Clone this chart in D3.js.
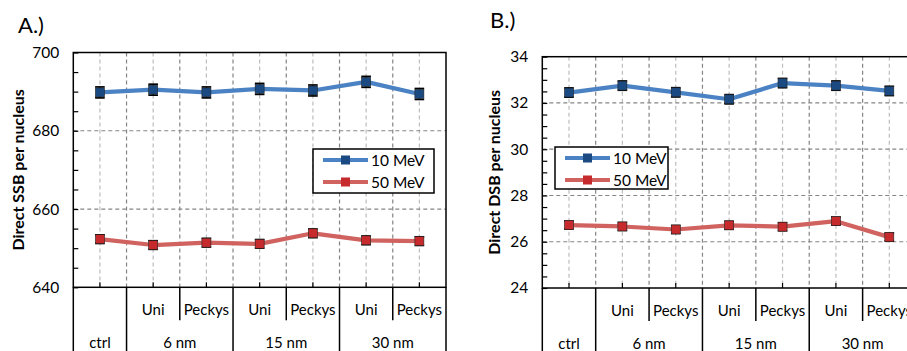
<!DOCTYPE html>
<html>
<head>
<meta charset="utf-8">
<script src="https://cdn.jsdelivr.net/npm/d3@7"></script>
<style>
  html, body { margin: 0; padding: 0; background: #fff; }
  svg { display: block; font-family: Lato, "Open Sans", sans-serif; }
</style>
</head>
<body>
<svg id="chart" width="907" height="351"></svg>
<script>
// Categories: control plus two distributions for each nanoparticle size
const categories = ["ctrl", "6 Uni", "6 Peckys", "15 Uni", "15 Peckys", "30 Uni", "30 Peckys"];
const subLabels = ["", "Uni", "Peckys", "Uni", "Peckys", "Uni", "Peckys"];
const groupLabels = ["ctrl", "6 nm", "15 nm", "30 nm"];
const groupSpans = [1, 2, 2, 2];
const seriesNames = ["10 MeV", "50 MeV"];

// Panel A: direct single-strand breaks per nucleus
const ssb10 = [689.8, 690.5, 689.8, 690.7, 690.3, 692.5, 689.4];
const ssb10Err = [1.4, 1.4, 1.4, 1.4, 1.4, 1.4, 1.4];
const ssb50 = [652.3, 650.8, 651.4, 651.1, 653.8, 652.0, 651.8];
const ssb50Err = [1.1, 1.1, 1.1, 1.1, 1.1, 1.1, 1.1];
const ssbTicks = [640, 660, 680, 700];

// Panel B: direct double-strand breaks per nucleus
const dsb10 = [32.45, 32.75, 32.46, 32.16, 32.86, 32.75, 32.52];
const dsb10Err = [0.2, 0.2, 0.2, 0.2, 0.2, 0.2, 0.2];
const dsb50 = [26.72, 26.66, 26.53, 26.71, 26.65, 26.89, 26.2];
const dsb50Err = [0.17, 0.17, 0.17, 0.17, 0.17, 0.17, 0.17];
const dsbTicks = [24, 26, 28, 30, 32, 34];

const lineColors = ["#4a82c4", "#d0625f"];
const markerColors = ["#1b4a82", "#c62a2c"];

const svg = d3.select("#chart");

function drawPanel(opt) {
  const g = svg.append("g");
  const x = d3.scaleBand().domain(categories).range([opt.left, opt.right]).padding(0);
  const y = d3.scaleLinear().domain(opt.domain).range([opt.bottom, opt.top]);
  const bw = x.bandwidth();
  const cx = c => x(c) + bw / 2;

  // panel letter
  g.append("text").attr("x", opt.letterX).attr("y", opt.letterY)
    .attr("font-size", 22).attr("fill", "#000").text(opt.letter);

  // vertical gridlines: category centres (light) and category borders (darker)
  g.selectAll(".vc").data(categories).join("line")
    .attr("x1", cx).attr("x2", cx).attr("y1", opt.top).attr("y2", opt.bottom)
    .attr("stroke", "#bdbdbd").attr("stroke-width", 1.2).attr("stroke-dasharray", "4,3");
  g.selectAll(".vb").data(categories.slice(1)).join("line")
    .attr("x1", d => x(d)).attr("x2", d => x(d)).attr("y1", opt.top).attr("y2", opt.bottom)
    .attr("stroke", "#858585").attr("stroke-width", 1.2).attr("stroke-dasharray", "4,3");

  // horizontal gridlines at labelled ticks
  g.selectAll(".hg").data(opt.ticks.slice(1, -1)).join("line")
    .attr("x1", opt.left).attr("x2", opt.right).attr("y1", d => y(d)).attr("y2", d => y(d))
    .attr("stroke", "#858585").attr("stroke-width", 1.2).attr("stroke-dasharray", "4,3");

  // y axis with inward minor ticks
  const minor = d3.range(opt.domain[0], opt.domain[1] + opt.minorStep / 2, opt.minorStep);
  const yAxis = d3.axisLeft(y).tickValues(minor).tickSize(-5).tickPadding(14)
    .tickFormat(d => opt.ticks.some(t => Math.abs(t - d) < 1e-9) ? d3.format("d")(d) : "");
  const ya = g.append("g").attr("transform", `translate(${opt.left},0)`).call(yAxis);
  ya.select(".domain").remove();
  ya.selectAll("line").attr("stroke", "#000").attr("stroke-width", 1.2);
  ya.selectAll("text").attr("font-size", 15.5).attr("fill", "#000")
    .attr("font-family", "Lato, 'Open Sans', sans-serif");

  // x axis: small inward ticks at category centres
  const xAxis = d3.axisBottom(x).tickSize(-5).tickFormat("");
  const xa = g.append("g").attr("transform", `translate(0,${opt.bottom})`).call(xAxis);
  xa.select(".domain").remove();
  xa.selectAll("line").attr("stroke", "#000").attr("stroke-width", 1.2);

  // y-axis title
  g.append("text")
    .attr("transform", `translate(${opt.titleX},${(opt.top + opt.bottom) / 2}) rotate(-90)`)
    .attr("text-anchor", "middle").attr("dominant-baseline", "central")
    .attr("font-size", 16).attr("font-weight", "bold").attr("fill", "#000")
    .text(opt.title);

  // plot frame
  g.append("rect").attr("x", opt.left).attr("y", opt.top)
    .attr("width", opt.right - opt.left).attr("height", opt.bottom - opt.top)
    .attr("fill", "none").attr("stroke", "#000").attr("stroke-width", 1.5);

  // multi-level category table below the plot
  const tableBottom = 360;
  const subRowBottom = opt.bottom + 33;
  let idx = 0;
  const fullEdges = [x(categories[0])];
  groupSpans.forEach(s => { idx += s; fullEdges.push(idx < categories.length ? x(categories[idx]) : opt.right); });
  g.selectAll(".fe").data(fullEdges).join("line")
    .attr("x1", d => d).attr("x2", d => d).attr("y1", opt.bottom).attr("y2", tableBottom)
    .attr("stroke", "#000").attr("stroke-width", 1.5);
  const shortEdges = [2, 4, 6].map(i => x(categories[i]));
  g.selectAll(".se").data(shortEdges).join("line")
    .attr("x1", d => d).attr("x2", d => d).attr("y1", opt.bottom).attr("y2", subRowBottom)
    .attr("stroke", "#000").attr("stroke-width", 1.5);

  g.selectAll(".sub").data(categories).join("text")
    .attr("x", cx).attr("y", opt.bottom + 28)
    .attr("text-anchor", "middle").attr("font-size", 15).attr("fill", "#000")
    .text((d, i) => subLabels[i]);

  idx = 0;
  groupLabels.forEach((lab, k) => {
    const a = x(categories[idx]);
    const b = x(categories[idx + groupSpans[k] - 1]) + bw;
    idx += groupSpans[k];
    g.append("text").attr("x", (a + b) / 2).attr("y", opt.bottom + 61)
      .attr("text-anchor", "middle").attr("font-size", 15).attr("fill", "#000").text(lab);
  });

  // series
  const series = [
    { vals: opt.s10, err: opt.e10 },
    { vals: opt.s50, err: opt.e50 }
  ];
  const line = d3.line().x((d, i) => cx(categories[i])).y(d => y(d));
  series.forEach((s, k) => {
    g.append("path").datum(s.vals).attr("d", line)
      .attr("fill", "none").attr("stroke", lineColors[k]).attr("stroke-width", 4.2)
      .attr("stroke-linejoin", "round");
    const eb = g.append("g");
    s.vals.forEach((v, i) => {
      const px = cx(categories[i]);
      const y1 = y(v - s.err[i]), y2 = y(v + s.err[i]);
      eb.append("line").attr("x1", px).attr("x2", px).attr("y1", y1).attr("y2", y2)
        .attr("stroke", "#000").attr("stroke-width", 1.3);
      [y1, y2].forEach(yy => eb.append("line").attr("x1", px - 4.8).attr("x2", px + 4.8)
        .attr("y1", yy).attr("y2", yy).attr("stroke", "#000").attr("stroke-width", 1.7));
      eb.append("rect").attr("x", px - 4.5).attr("y", y(v) - 4.5).attr("width", 9).attr("height", 9)
        .attr("fill", markerColors[k]).attr("stroke", "#222").attr("stroke-width", 0.6);
    });
  });

  // legend
  const L = opt.legend;
  const lg = g.append("g");
  lg.append("rect").attr("x", L.x).attr("y", L.y).attr("width", L.w).attr("height", L.h)
    .attr("fill", "#fff").attr("stroke", "#000").attr("stroke-width", 1.5);
  seriesNames.forEach((name, k) => {
    const yy = L.y + 11 + k * 22;
    lg.append("line").attr("x1", L.x + 10).attr("x2", L.x + 55).attr("y1", yy).attr("y2", yy)
      .attr("stroke", lineColors[k]).attr("stroke-width", 4.2);
    lg.append("rect").attr("x", L.x + 32.5 - 4.5).attr("y", yy - 4.5).attr("width", 9).attr("height", 9)
      .attr("fill", markerColors[k]);
    lg.append("text").attr("x", L.x + 58).attr("y", yy).attr("dominant-baseline", "central")
      .attr("font-size", 15.5).attr("fill", "#000").text(name);
  });
}

drawPanel({
  letter: "A.)", letterX: 18, letterY: 33,
  left: 73.3, right: 446, top: 52.5, bottom: 287.3,
  domain: [640, 700], ticks: ssbTicks, minorStep: 5,
  title: "Direct SSB per nucleus", titleX: 17,
  s10: ssb10, e10: ssb10Err, s50: ssb50, e50: ssb50Err,
  legend: { x: 313, y: 149, w: 121, h: 44 }
});

drawPanel({
  letter: "B.)", letterX: 490, letterY: 28,
  left: 542.3, right: 916, top: 56.7, bottom: 288,
  domain: [24, 34], ticks: dsbTicks, minorStep: 0.5,
  title: "Direct DSB per nucleus", titleX: 493,
  s10: dsb10, e10: dsb10Err, s50: dsb50, e50: dsb50Err,
  legend: { x: 555, y: 147, w: 113, h: 42 }
});
</script>
</body>
</html>
